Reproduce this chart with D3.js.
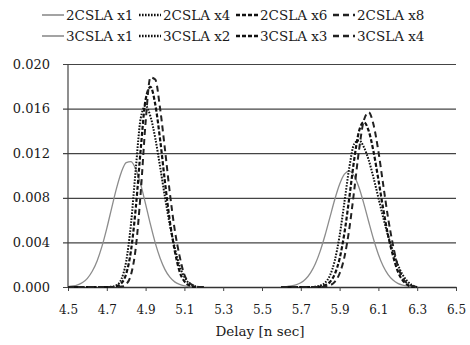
<!DOCTYPE html>
<html>
<head>
<meta charset="utf-8">
<script src="https://cdn.jsdelivr.net/npm/d3@7"></script>
<style>
  body { margin: 0; background: #fff; }
  svg { display: block; font-family: 'DejaVu Serif', serif; }
</style>
</head>
<body>
<svg id="chart" width="470" height="345"></svg>
<script>
// delay samples [ns] for the two humps
const leftDelay = [4.500, 4.525, 4.550, 4.575, 4.600, 4.625, 4.650, 4.675, 4.700, 4.725,
  4.750, 4.775, 4.800, 4.825, 4.850, 4.875, 4.900, 4.925, 4.950, 4.975,
  5.000, 5.025, 5.050, 5.075, 5.100, 5.125, 5.150, 5.175, 5.200];
const rightDelay = [5.600, 5.625, 5.650, 5.675, 5.700, 5.725, 5.750, 5.775, 5.800, 5.825,
  5.850, 5.875, 5.900, 5.925, 5.950, 5.975, 6.000, 6.025, 6.050, 6.075,
  6.100, 6.125, 6.150, 6.175, 6.200, 6.225, 6.250, 6.275, 6.300];

const csla2x1 = [0.00004, 0.00009, 0.0002, 0.0004, 0.00078, 0.00141, 0.00234, 0.00364, 0.00526, 0.00708,
  0.00885, 0.0103, 0.01115, 0.01124, 0.01053, 0.00918, 0.00744, 0.00561, 0.00394, 0.00258,
  0.00156, 0.00088, 0.00046, 0.00023, 0.0001, 0.00004, 0.00001, 0, 0];
const csla2x4 = [0, 0, 0, 0, 0, 0, 0, 0, 0, 0.00003,
  0.00016, 0.0007, 0.0023, 0.00572, 0.01072, 0.01515, 0.01625, 0.0153, 0.01334, 0.01076,
  0.00804, 0.00556, 0.00356, 0.0019, 0.0009, 0.0003, 0.0001, 0, 0];
const csla2x6 = [0, 0, 0, 0, 0, 0, 0, 0, 0, 0,
  0.00007, 0.00033, 0.00118, 0.0033, 0.0072, 0.0124, 0.0168, 0.01794, 0.01636, 0.0132,
  0.00939, 0.0059, 0.00328, 0.0014, 0.0005, 0.00015, 0, 0, 0];
const csla2x8 = [0, 0, 0, 0, 0, 0, 0, 0, 0, 0,
  0, 0.00004, 0.00026, 0.00112, 0.00361, 0.00852, 0.01476, 0.0188, 0.0186, 0.01597,
  0.01231, 0.00844, 0.00515, 0.00279, 0.0011, 0.0004, 0.0001, 0, 0];

const csla3x1 = [0.00002, 0.00004, 0.00009, 0.00019, 0.00038, 0.00072, 0.00127, 0.00209, 0.00322, 0.00464,
  0.00624, 0.00785, 0.00922, 0.01013, 0.0104, 0.00997, 0.00893, 0.00748, 0.00585, 0.00428,
  0.00292, 0.00186, 0.00111, 0.00062, 0.00032, 0.00016, 0.00007, 0.00003, 0];
const csla3x2 = [0, 0, 0, 0, 0, 0, 0, 0.00003, 0.00012, 0.00038,
  0.00103, 0.00236, 0.0046, 0.00762, 0.01072, 0.01282, 0.01315, 0.01255, 0.01138, 0.00979,
  0.008, 0.00622, 0.00458, 0.00321, 0.002, 0.0011, 0.0005, 0.00015, 0];
const csla3x3 = [0, 0, 0, 0, 0, 0, 0, 0, 0.00004, 0.00015,
  0.00045, 0.00115, 0.00254, 0.00486, 0.00801, 0.0114, 0.01398, 0.01479, 0.014, 0.01213,
  0.00962, 0.00698, 0.00463, 0.00282, 0.0014, 0.0006, 0.0002, 0, 0];
const csla3x4 = [0, 0, 0, 0, 0, 0, 0, 0, 0, 0.00004,
  0.00015, 0.00046, 0.00121, 0.0027, 0.00521, 0.00863, 0.01226, 0.01495, 0.01567, 0.01455,
  0.01217, 0.00915, 0.00619, 0.00378, 0.0019, 0.0008, 0.0003, 0.0001, 0];

const xTicks = [4.5, 4.7, 4.9, 5.1, 5.3, 5.5, 5.7, 5.9, 6.1, 6.3, 6.5];
const yTicks = [0, 0.004, 0.008, 0.012, 0.016, 0.020];

const labels2 = ['2CSLA x1', '2CSLA x4', '2CSLA x6', '2CSLA x8'];
const labels3 = ['3CSLA x1', '3CSLA x2', '3CSLA x3', '3CSLA x4'];

// line styles: solid grey, dotted, dashed, long dashed
const styles = [
  { stroke: '#8c8c8c', width: 1.3, dash: null },
  { stroke: '#111', width: 2, dash: '1.6,1.4' },
  { stroke: '#111', width: 2.2, dash: '4,2' },
  { stroke: '#222', width: 2, dash: '6,4' }
];

const series = [
  { x: leftDelay, y: csla2x1, s: 0 },
  { x: leftDelay, y: csla2x4, s: 1 },
  { x: leftDelay, y: csla2x6, s: 2 },
  { x: leftDelay, y: csla2x8, s: 3 },
  { x: rightDelay, y: csla3x1, s: 0 },
  { x: rightDelay, y: csla3x2, s: 1 },
  { x: rightDelay, y: csla3x3, s: 2 },
  { x: rightDelay, y: csla3x4, s: 3 }
];

const svg = d3.select('#chart');
const margin = { top: 64, right: 14, bottom: 58, left: 68 };
const width = 470 - margin.left - margin.right;
const height = 345 - margin.top - margin.bottom;

const x = d3.scaleLinear().domain([4.5, 6.5]).range([0, width]);
const y = d3.scaleLinear().domain([0, 0.02]).range([height, 0]);

const g = svg.append('g')
  .attr('transform', 'translate(' + margin.left + ',' + margin.top + ')');

// horizontal grid + y labels
const yAxis = g.append('g')
  .call(d3.axisLeft(y).tickValues(yTicks).tickFormat(d3.format('.3f'))
    .tickSize(-width - 5).tickPadding(13))
  .attr('transform', 'translate(-5,0)');
yAxis.select('.domain').remove();
yAxis.selectAll('.tick line').attr('stroke', '#444').attr('stroke-width', 1.2);
yAxis.selectAll('.tick text')
  .attr('fill', '#1a1a1a')
  .style('font-size', '13px')
  .style('font-family', 'DejaVu Serif, serif');

// left axis line
g.append('line')
  .attr('x1', 0).attr('x2', 0).attr('y1', 0).attr('y2', height)
  .attr('stroke', '#444').attr('stroke-width', 1.2);

// bottom axis
const xAxis = g.append('g')
  .attr('transform', 'translate(0,' + height + ')')
  .call(d3.axisBottom(x).tickValues(xTicks).tickFormat(d3.format('.1f'))
    .tickSizeOuter(0).tickSizeInner(4).tickPadding(14));
xAxis.select('.domain').attr('stroke', '#333').attr('stroke-width', 1.3);
xAxis.selectAll('.tick line').attr('stroke', '#444');
xAxis.selectAll('.tick text')
  .attr('fill', '#1a1a1a')
  .style('font-size', '12px')
  .style('font-family', 'DejaVu Serif, serif');

g.append('text')
  .attr('x', width / 2 - 2)
  .attr('y', height + 49)
  .attr('text-anchor', 'middle')
  .attr('fill', '#1a1a1a')
  .style('font-size', '13.5px')
  .text('Delay [n sec]');

// curves
const line = d3.line()
  .x((d) => x(d[0]))
  .y((d) => y(d[1]))
  .curve(d3.curveMonotoneX);

series.forEach((sr) => {
  const st = styles[sr.s];
  const pts = sr.x.map((v, i) => [v, sr.y[i]]);
  g.append('path')
    .datum(pts)
    .attr('d', line)
    .attr('fill', 'none')
    .attr('stroke', st.stroke)
    .attr('stroke-width', st.width)
    .attr('stroke-dasharray', st.dash);
});

// legend, two rows
const legend = svg.append('g');
[labels2, labels3].forEach((row, r) => {
  const ly = 15 + r * 21;
  row.forEach((lab, i) => {
    const st = styles[i];
    const lx = 42 + i * 97;
    legend.append('line')
      .attr('x1', lx).attr('x2', lx + 22)
      .attr('y1', ly).attr('y2', ly)
      .attr('stroke', st.stroke)
      .attr('stroke-width', st.width + 0.3)
      .attr('stroke-dasharray', st.dash);
    legend.append('text')
      .attr('x', lx + 24)
      .attr('y', ly + 4.5)
      .attr('fill', '#1a1a1a')
      .style('font-size', '13.5px')
      .text(lab);
  });
});
</script>
</body>
</html>
